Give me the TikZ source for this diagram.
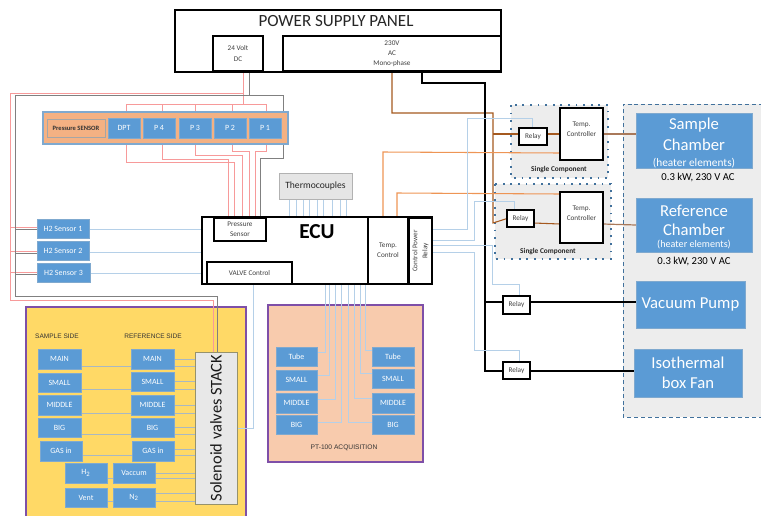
\documentclass[tikz,border=0pt]{standalone}
\usepackage{fontspec}
\setmainfont{Carlito}
\newfontfamily\arialf{Liberation Sans}
\usetikzlibrary{calc}
\pgfdeclarelayer{panel}
\pgfdeclarelayer{wire}
\pgfsetlayers{panel,wire,main}
\definecolor{bluefill}{HTML}{5B9BD5}
\definecolor{blueedge}{HTML}{7FA9CF}
\definecolor{blwire}{HTML}{B5D0E8}
\definecolor{rdwire}{HTML}{F79A9A}
\definecolor{gywire}{HTML}{808080}
\definecolor{brwire}{HTML}{A5591F}
\definecolor{orwire}{HTML}{EE9555}
\definecolor{tnwire}{HTML}{A9795A}
\definecolor{stwire}{HTML}{A9B8C2}
\definecolor{purp}{HTML}{7E4FA8}
\definecolor{txt}{HTML}{404040}
\definecolor{dotblue}{HTML}{41719C}
\definecolor{bandor}{HTML}{F4B183}
\definecolor{yelfill}{HTML}{FFD966}
\definecolor{ptfill}{HTML}{F8CBAD}
\definecolor{pgray}{HTML}{EDEDED}
\newcommand{\bx}[7][]{%
  \pgfmathsetmacro{\bw}{(#5-#3)*.75}%
  \pgfmathsetmacro{\bh}{(#6-#4)*.75}%
  \pgfmathsetmacro{\bcx}{(#3+#5)/2}%
  \pgfmathsetmacro{\bcy}{(#4+#6)/2}%
  \node[#1,minimum width=\bw pt,minimum height=\bh pt] (#2) at (\bcx,\bcy) {#7};}
\tikzset{
  x=.75pt,y=-.75pt,
  base/.style={inner sep=0pt,outer sep=0pt,align=center},
  blk/.style={base,draw=black,line width=1.3pt,fill=white,text=txt,font=\fontsize{5.4}{7.6}\selectfont},
  blu/.style={base,draw=blueedge,line width=.5pt,fill=bluefill,text=white,font=\fontsize{6}{7}\selectfont},
  big/.style={base,fill=bluefill,draw=blueedge,line width=.5pt,text=white},
  panelgray/.style={base,fill=pgray},
  dots/.style={draw=dotblue,line width=1.3pt,dash pattern=on 1.3pt off 4.4pt},
  bluw/.style={draw=blwire,line width=.6pt},
  redw/.style={draw=rdwire,line width=.7pt},
  gryw/.style={draw=gywire,line width=.6pt},
  brnw/.style={draw=brwire,line width=.8pt},
  orgw/.style={draw=orwire,line width=.8pt},
  tanw/.style={draw=tnwire,line width=.9pt},
  blkw/.style={draw=black,line width=1.4pt},
  stw/.style={draw=stwire,line width=.6pt},
}
\begin{document}
\begin{tikzpicture}
\useasboundingbox (0,0) rectangle (761,515);
\clip (0,0) rectangle (761,515);
% power
\bx[base,draw=black,line width=1.4pt,fill=white]{psu}{175}{10}{501}{72}{}
\node[base,font=\fontsize{12.8}{14}\selectfont,text=black!85] (psutitle) at (336,21) {POWER SUPPLY PANEL};
\bx[blk]{vdc}{213}{36}{263}{71}{24 Volt\\DC}
\bx[blk]{vac}{283}{36}{501}{71}{230V\\AC\\Mono-phase}
% pressure
\bx[base,fill=bandor,draw=blueedge,line width=.8pt]{pband}{43}{112}{288}{144}{}
\bx[base,draw=gray!70,line width=.6pt,font=\bfseries\fontsize{4.9}{6}\selectfont,text=black!80]{plabel}{47}{119}{105}{137}{Pressure SENSOR}
\bx[blu]{dpt}{108}{118}{140}{138}{DPT}
\bx[blu]{pfour}{143}{118}{175}{138}{P 4}
\bx[blu]{pthree}{179}{118}{211}{138}{P 3}
\bx[blu]{ptwo}{214}{118}{246}{138}{P 2}
\bx[blu]{pone}{249}{118}{281}{138}{P 1}
% H2
\bx[blu]{hone}{37}{219}{89}{238}{H2 Sensor 1}
\bx[blu]{htwo}{37}{241}{89}{260}{H2 Sensor 2}
\bx[blu]{hthree}{37}{263}{90}{282}{H2 Sensor 3}
% thermocouples
\bx[base,fill=gray!20,draw=gray!60,line width=.6pt,font=\fontsize{7.2}{8}\selectfont,text=black!85]{thermo}{279}{173}{352}{199}{Thermocouples}
% ECU
\bx[base,draw=black,line width=1.5pt,fill=white]{ecu}{202}{217}{432}{284}{}
\node[base,font=\bfseries\fontsize{16}{17}\selectfont] (ecutitle) at (317,232) {ECU};
\bx[blk]{eps}{214}{218}{266}{241}{Pressure\\Sensor}
\bx[blk]{evc}{207}{262}{292}{284}{VALVE Control}
\bx[blk,line width=.8pt]{etc}{368}{217}{408}{284}{Temp.\\Control}
\bx[blk]{ecr}{409}{218}{432}{284}{}
\node[base,rotate=90,text=txt,font=\fontsize{5.4}{7.6}\selectfont] (ecrtext) at (ecr.center) {Control Power\\Relay};
% dotted panels
\begin{pgfonlayer}{panel}
\bx[panelgray]{sone}{511}{105}{608}{178}{}
\bx[panelgray]{stwo}{495}{184}{611}{259}{}
\bx[panelgray]{rpanel}{623}{104}{770}{417}{}
\draw[dots] (sone.north west) rectangle (sone.south east);
\draw[dots] (stwo.north west) rectangle (stwo.south east);
\draw[draw=dotblue,line width=.6pt,dash pattern=on 3pt off 2.2pt] (rpanel.south east) -- (rpanel.south west) -- (rpanel.north west) -- (rpanel.north east);
\bx[base,fill=yelfill,draw=purp,line width=.9pt]{yellow}{26}{307}{246}{525}{}
\bx[base,fill=ptfill,draw=purp,line width=.9pt]{ptpanel}{268}{305}{423}{462}{}
\end{pgfonlayer}
\node[base,font=\bfseries\fontsize{5.5}{7}\selectfont,text=black!85] (sclabela) at (559,170) {Single Component};
\node[base,font=\bfseries\fontsize{5.5}{7}\selectfont,text=black!85] (sclabelb) at (548,252) {Single Component};
% relays
\bx[blk]{rone}{519}{128}{547}{145}{Relay}
\bx[blk]{rtwo}{507}{210}{534}{227}{Relay}
\bx[blk]{rthree}{503}{296}{530}{314}{Relay}
\bx[blk]{rfour}{503}{362}{530}{379}{Relay}
\bx[blk]{tcone}{560}{108}{603}{160}{Temp.\\Controller\\[-1pt]\mbox{}}
\bx[blk]{tctwo}{560}{192}{603}{243}{Temp.\\Controller\\[-1pt]\mbox{}}
% right blocks
\bx[big]{sample}{636}{113}{752}{168}{\rule{0pt}{12pt}\fontsize{12.5}{15}\selectfont Sample\\[3.5pt]\fontsize{12.5}{15}\selectfont Chamber\\[0pt]\fontsize{8.5}{9}\selectfont (heater elements)}
\bx[big]{refch}{636}{198}{752}{252}{\rule{0pt}{11.5pt}\fontsize{12.5}{15}\selectfont Reference\\[2.5pt]\fontsize{12.5}{15}\selectfont Chamber\\[-3.5pt]\fontsize{7.6}{9}\selectfont (heater elements)}
\bx[big]{vacpump}{636}{281}{745}{328}{\fontsize{12.5}{15}\selectfont Vacuum Pump}
\bx[big]{isofan}{634}{349}{742}{397}{\fontsize{12.5}{16}\selectfont Isothermal\\[3pt]\fontsize{12.5}{16}\selectfont box Fan}
\node[base,font=\fontsize{8}{9}\selectfont] (kwa) at (698,177) {0.3 kW, 230 V AC};
\node[base,font=\fontsize{8}{9}\selectfont] (kwb) at (694,261) {0.3 kW, 230 V AC};
% yellow panel
\node[base,font=\arialf\fontsize{4.9}{6}\selectfont,text=black!80] (sside) at (57,336) {SAMPLE SIDE};
\node[base,font=\arialf\fontsize{4.9}{6}\selectfont,text=black!80] (rside) at (153,336) {REFERENCE SIDE};
\bx[blu]{smain}{38}{349}{81}{369}{MAIN}
\bx[blu]{ssmall}{38}{373}{81}{392}{SMALL}
\bx[blu]{smid}{38}{395}{81}{415}{MIDDLE}
\bx[blu]{sbig}{38}{418}{81}{437}{BIG}
\bx[blu]{sgas}{40}{441}{82}{461}{GAS in}
\bx[blu]{rmain}{131}{349}{174}{369}{MAIN}
\bx[blu]{rsmall}{131}{372}{174}{391}{SMALL}
\bx[blu]{rmid}{131}{395}{174}{415}{MIDDLE}
\bx[blu]{rbig}{131}{418}{174}{437}{BIG}
\bx[blu]{rgas}{132}{441}{174}{461}{GAS in}
\bx[blu]{htwob}{65}{463}{107}{483}{H\textsubscript{2}}
\bx[blu]{vaccum}{113}{463}{155}{483}{Vaccum}
\bx[blu]{vent}{65}{488}{107}{507}{Vent}
\bx[blu]{ntwo}{113}{488}{155}{507}{N\textsubscript{2}}
\bx[base,fill=gray!18,draw=black!45!yellow!50!gray,line width=.7pt]{stack}{195}{352}{237}{504}{}
\node[base,rotate=90,font=\fontsize{12.3}{14}\selectfont,text=black!90] (stacktext) at (216,428) {Solenoid valves STACK};
% PT100
\bx[blu]{tl}{276}{347}{317}{366}{Tube}
\bx[blu]{sl}{276}{370}{317}{390}{SMALL}
\bx[blu]{ml}{276}{393}{317}{413}{MIDDLE}
\bx[blu]{bl}{276}{415}{317}{434}{BIG}
\bx[blu]{tr}{372}{347}{414}{366}{Tube}
\bx[blu]{sr}{372}{369}{414}{388}{SMALL}
\bx[blu]{mr}{372}{393}{414}{413}{MIDDLE}
\bx[blu]{br}{372}{415}{414}{434}{BIG}
\node[base,font=\arialf\fontsize{5}{6}\selectfont,text=black!80] (ptlabel) at (344,448) {PT-100 ACQUISITION};
% wires
\begin{pgfonlayer}{wire}
% red power
\draw[redw] (243,0 |- vdc.south) -- (243,93) -- (10,93) -- (10,300) -- (213,300) -- (213,0 |- stack.north);
\draw[redw] (243,93) -- (243,104);
\draw[redw] (126,0 |- dpt.north) -- (126,104) -- (266,104) -- (266,0 |- pone.north);
\draw[redw] (162,104) -- (162,0 |- pfour.north);
\draw[redw] (195,104) -- (195,0 |- pthree.north);
\draw[redw] (232,104) -- (232,0 |- ptwo.north);
\draw[redw] (126,0 |- dpt.south) -- (126,162) -- (234,162) -- (234,0 |- ecu.north);
\draw[redw] (162,0 |- pfour.south) -- (162,159) -- (228,159) -- (228,0 |- ecu.north);
\draw[redw] (195,0 |- pthree.south) -- (195,155) -- (242,155) -- (242,0 |- ecu.north);
\draw[redw] (232,0 |- ptwo.south) -- (232,151) -- (249,151) -- (249,0 |- ecu.north);
\draw[redw] (266,0 |- pone.south) -- (266,151) -- (255,151) -- (255,0 |- ecu.north);
\draw[redw] (10,227) -- (hone.west |- 0,227);
\draw[redw] (10,251) -- (htwo.west |- 0,251);
\draw[redw] (10,272) -- (hthree.west |- 0,272);
% gray power
\draw[gryw] (249,0 |- vdc.south) -- (249,95);
\draw[gryw] (15,95) -- (283,95) -- (283,158) -- (260,158) -- (260,0 |- ecu.north);
\draw[gryw] (15,95) -- (15,296) -- (217,296) -- (217,0 |- stack.north);
\draw[gryw] (15,229) -- (hone.west |- 0,229);
\draw[gryw] (15,253) -- (htwo.west |- 0,253);
\draw[gryw] (15,274) -- (hthree.west |- 0,274);
% H2 signals
\draw[bluw] (hone.east |- 0,229) -- (ecu.west |- 0,229);
\draw[bluw] (htwo.east |- 0,252) -- (ecu.west |- 0,252);
\draw[bluw] (hthree.east |- 0,273) -- (ecu.west |- 0,273);
% thermocouples
\foreach \tx in {289,296,303,309,317,323,332,340,346}
  \draw[bluw] (\tx,0 |- thermo.south) -- (\tx,0 |- ecu.north);
% AC brown / black
\draw[brnw] (392,0 |- vac.south) -- (392,113) -- (493,113) -- (493,223) -- (rtwo.west);
\draw[brnw] (493,134) -- (rone.west |- 0,134);
\draw[brnw] (rone.east |- 0,134) -- (tcone.west |- 0,134);
\draw[brnw] (rtwo.east |- 0,223) -- (tctwo.west |- 0,224);
\draw[tanw] (tcone.east |- 0,134) -- (sample.west |- 0,134);
\draw[tanw] (tctwo.east |- 0,224) -- (refch.west |- 0,225);
\draw[blkw] (422,0 |- vac.south) -- (422,83) -- (485,83) -- (485,371) -- (rfour.west |- 0,371);
\draw[blkw] (485,302) -- (rthree.west |- 0,302);
\draw[blkw] (rthree.east |- 0,302) -- (vacpump.west |- 0,302);
\draw[blkw] (rfour.east |- 0,371) -- (isofan.west |- 0,371);
% orange
\draw[orgw] (383,0 |- etc.north) -- (383,152) -- (tcone.west |- 0,153);
\draw[orgw] (397,0 |- etc.north) -- (397,193) -- (tctwo.west |- 0,194);
% relay signals
\draw[bluw] (ecr.east |- 0,229) -- (467,229) -- (467,118) -- (532,118) -- (532,0 |- rone.north);
\draw[bluw] (ecr.east |- 0,240) -- (474,240) -- (474,201) -- (514,201) -- (514,0 |- rtwo.north);
\draw[bluw] (ecr.east |- 0,245) -- (492,245) -- (492,284) -- (519,284) -- (519,0 |- rthree.north);
\draw[bluw] (ecr.east |- 0,252) -- (474,252) -- (474,350) -- (519,350) -- (519,0 |- rfour.north);
% valve
\draw[bluw] (253,0 |- evc.south) -- (253,428) -- (stack.east |- 0,428);
% PT100
\draw[bluw] (tl.east |- 0,352) -- (325,352) -- (325,0 |- ecu.south);
\draw[bluw] (sl.east |- 0,375) -- (329,375) -- (329,0 |- ecu.south);
\draw[bluw] (ml.east |- 0,399) -- (335,399) -- (335,0 |- ecu.south);
\draw[bluw] (bl.east |- 0,422) -- (341,422) -- (341,0 |- ecu.south);
\draw[bluw] (br.west |- 0,422) -- (348,422) -- (348,0 |- ecu.south);
\draw[bluw] (mr.west |- 0,398) -- (354,398) -- (354,0 |- ecu.south);
\draw[bluw] (sr.west |- 0,373) -- (360,373) -- (360,0 |- ecu.south);
\draw[bluw] (tr.west |- 0,350) -- (365,350) -- (365,0 |- ecu.south);
% stack
\draw[stw] (smain.east |- 0,366) -- (rmain.west |- 0,366);
\draw[stw] (ssmall.east |- 0,389) -- (rsmall.west |- 0,389);
\draw[stw] (smid.east |- 0,413) -- (stack.west |- 0,413);
\draw[stw] (sbig.east |- 0,434) -- (rbig.west |- 0,434);
\draw[stw] (sgas.east |- 0,455) -- (rgas.west |- 0,455);
\foreach \ya in {359,366}
  \draw[stw] (rmain.east |- 0,\ya) -- (stack.west |- 0,\ya);
\foreach \ya in {381,389}
  \draw[stw] (rsmall.east |- 0,\ya) -- (stack.west |- 0,\ya);
\draw[stw] (rmid.east |- 0,405) -- (stack.west |- 0,405);
\foreach \ya in {427,434}
  \draw[stw] (rbig.east |- 0,\ya) -- (stack.west |- 0,\ya);
\foreach \ya in {449,455}
  \draw[stw] (rgas.east |- 0,\ya) -- (stack.west |- 0,\ya);
\foreach \ya in {473,478}
  \draw[stw] (vaccum.east |- 0,\ya) -- (stack.west |- 0,\ya);
\foreach \ya in {493,501}
  \draw[stw] (ntwo.east |- 0,\ya) -- (stack.west |- 0,\ya);
\draw[stw] (htwob.east |- 0,478) -- (vaccum.west |- 0,478);
\draw[stw] (vent.east |- 0,501) -- (ntwo.west |- 0,501);
\end{pgfonlayer}
\end{tikzpicture}
\end{document}
